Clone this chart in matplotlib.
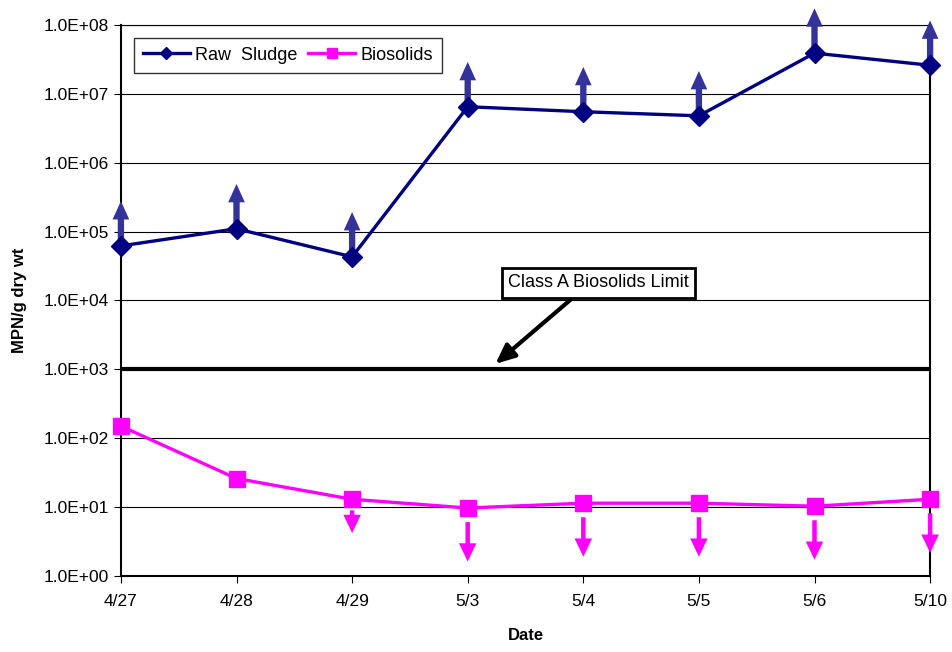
import matplotlib.pyplot as plt
import numpy as np

plt.rcParams['font.family'] = ['Liberation Sans', 'DejaVu Sans']

dates = ['4/27', '4/28', '4/29', '5/3', '5/4', '5/5', '5/6', '5/10']
raw_sludge = [6.2e4, 1.1e5, 4.3e4, 6.5e6, 5.5e6, 4.8e6, 3.9e7, 2.6e7]
biosolids = [150, 26, 13, 9.7, 11.4, 11.4, 10.3, 13]
# "greater than" / "less than" flags for each point
raw_up = [True] * 8
bio_down = [False, False, True, True, True, True, True, True]
class_a_limit = 1000

navy = '#000080'
arrow_blue = '#333399'
magenta = '#FF00FF'


def main():
    fig = plt.figure(figsize=(9.52, 6.52), dpi=100)
    ax = fig.add_axes([0.127, 0.1166, 0.850, 0.8451])
    x = np.arange(len(dates))

    ax.set_yscale('log')
    ax.set_ylim(1, 1e8)
    ax.set_xlim(0, len(dates) - 1)

    yt = [10.0 ** k for k in range(9)]
    ax.set_yticks(yt)
    ax.set_yticklabels(['1.0E+%02d' % k for k in range(9)])
    ax.yaxis.set_minor_locator(plt.NullLocator())
    ax.set_xticks(x)
    ax.set_xticklabels(dates)
    ax.tick_params(labelsize=12.5, direction='out', length=5, color='black')
    ax.tick_params(axis='x', pad=8)
    ax.grid(axis='y', color='black', lw=0.8)
    ax.set_axisbelow(True)
    for s in ['left', 'bottom', 'right']:
        ax.spines[s].set_linewidth(1.5)
    ax.spines['top'].set_linewidth(0.8)

    # detection limit arrows
    for i in x:
        if raw_up[i]:
            ax.annotate('', xy=(i, raw_sludge[i] * 10 ** 0.65), xytext=(i, raw_sludge[i]),
                        arrowprops=dict(arrowstyle='simple,head_width=1.0,head_length=1.1,tail_width=0.38',
                                        color=arrow_blue, lw=0, shrinkA=0, shrinkB=0,
                                        mutation_scale=12),
                        annotation_clip=False)
        if bio_down[i]:
            short = i == 2
            ax.annotate('', xy=(i, biosolids[i] / (3.1 if short else 6.0)),
                        xytext=(i, biosolids[i] / (1.45 if short else 1.6)),
                        arrowprops=dict(arrowstyle='simple,head_width=1.05,head_length=1.1,tail_width=0.27',
                                        color=magenta, lw=0, shrinkA=0, shrinkB=0,
                                        mutation_scale=12),
                        annotation_clip=False)

    ax.plot(x, raw_sludge, color=navy, lw=2.4, marker='D', ms=10, label='Raw  Sludge',
            zorder=5, clip_on=False)
    ax.plot(x, biosolids, color=magenta, lw=2.4, marker='s', ms=11, label='Biosolids',
            zorder=5, clip_on=False)

    ax.axhline(class_a_limit, color='black', lw=3, zorder=4)
    ax.annotate('Class A Biosolids Limit', xy=(3.24, 1.2e3), xytext=(4.13, 1.8e4),
                fontsize=13, ha='center', va='center',
                bbox=dict(boxstyle='square,pad=0.35', fc='white', ec='black', lw=2),
                arrowprops=dict(arrowstyle='-|>,head_width=0.4,head_length=0.9', color='black',
                                lw=3, shrinkA=0, shrinkB=0, relpos=(0.4, 0)),
                zorder=6)

    leg = ax.legend(loc='upper left', ncol=2, fontsize=13, frameon=True, fancybox=False,
                    edgecolor='black', handlelength=2.6, handletextpad=0.3, columnspacing=0.6,
                    borderaxespad=0.7, markerscale=0.6, borderpad=0.5)
    leg.get_frame().set_linewidth(1.0)

    ax.set_ylabel('MPN/g dry wt', fontsize=12, fontweight='bold', labelpad=12)
    ax.set_xlabel('Date', fontsize=12, fontweight='bold', labelpad=14)

    plt.savefig('out.png', dpi=100)


if __name__ == '__main__':
    main()
